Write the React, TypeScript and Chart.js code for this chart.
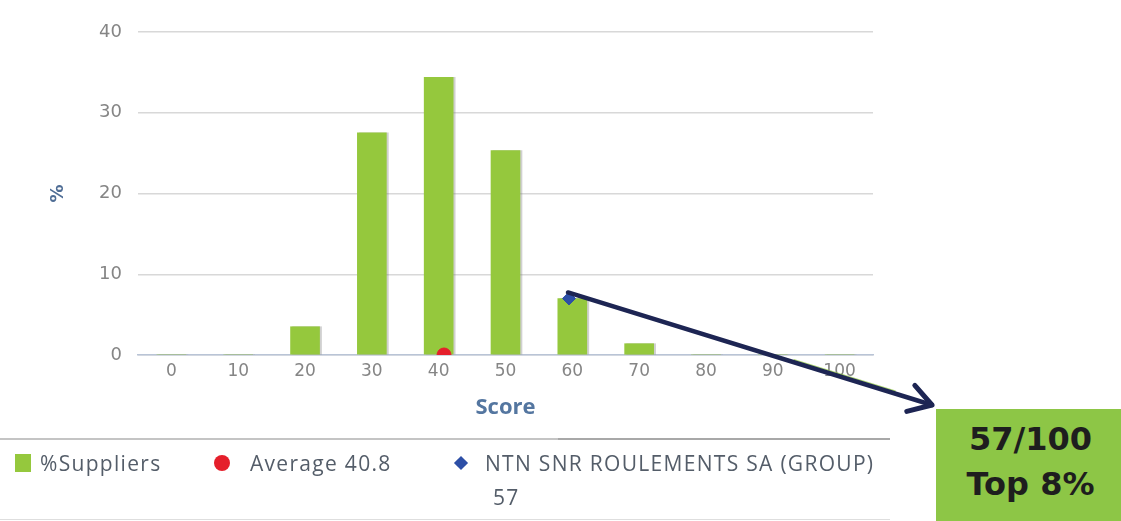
import React, { useEffect, useRef } from "react";
import { Chart, registerables } from "chart.js";

Chart.register(...registerables);

// ---- data ----
const scoreBins = [0, 10, 20, 30, 40, 50, 60, 70, 80, 90, 100];
const supplierPct = [0, 0, 3.5, 27.5, 34.4, 25.3, 7.0, 1.4, 0, 0, 0];
const yTickValues = [0, 10, 20, 30, 40];
const averageScore = 40.8;
const averageY = 0;
const companyMarkerX = 59.5;
const companyMarkerY = 7.0;
const legendLabels = ["%Suppliers", "Average 40.8", "NTN SNR ROULEMENTS SA (GROUP)", "57"];
const boxLines = ["57/100", "Top 8%"];

const W = 1121;
const H = 521;

const barShadow = {
  id: "barShadow",
  beforeDatasetDraw(chart: any, args: any) {
    if (args.index !== 0) return;
    const ctx = chart.ctx;
    ctx.save();
    ctx.shadowColor = "rgba(120,120,120,0.35)";
    ctx.shadowOffsetX = 2;
    ctx.shadowOffsetY = 0;
    ctx.shadowBlur = 0;
  },
  afterDatasetDraw(chart: any, args: any) {
    if (args.index !== 0) return;
    chart.ctx.restore();
  },
};

const arrowPlugin = {
  id: "arrowPlugin",
  afterDatasetsDraw(chart: any) {
    const meta = chart.getDatasetMeta(2);
    const pt = meta.data[0];
    if (!pt) return;
    const ctx = chart.ctx;
    const sx = pt.x - 1;
    const sy = pt.y - 6;
    const ex = 932;
    const ey = 405;
    const ang = Math.atan2(ey - sy, ex - sx);
    ctx.save();
    // faint green edge along the lower part of the arrow
    ctx.strokeStyle = "rgba(141,198,63,0.75)";
    ctx.lineWidth = 1.5;
    ctx.beginPath();
    ctx.moveTo(sx + (ex - sx) * 0.62, sy + (ey - sy) * 0.62 - 2.5);
    ctx.lineTo(sx + (ex - sx) * 0.9, sy + (ey - sy) * 0.9 - 2.5);
    ctx.stroke();
    ctx.strokeStyle = "#1d2553";
    ctx.lineWidth = 4.5;
    ctx.lineCap = "round";
    ctx.lineJoin = "round";
    ctx.beginPath();
    ctx.moveTo(sx, sy);
    ctx.lineTo(ex, ey);
    ctx.stroke();
    const L = 26;
    ctx.lineWidth = 5;
    ctx.beginPath();
    ctx.moveTo(ex - L * Math.cos(ang - 0.55), ey - L * Math.sin(ang - 0.55));
    ctx.lineTo(ex, ey);
    ctx.lineTo(ex - L * Math.cos(ang + 0.55), ey - L * Math.sin(ang + 0.55));
    ctx.stroke();
    ctx.restore();
  },
};

export default function App() {
  const canvasRef = useRef<HTMLCanvasElement | null>(null);

  useEffect(() => {
    const canvas = canvasRef.current;
    if (!canvas) return;
    const chart = new Chart(canvas, {
      type: "bar",
      data: {
        datasets: [
          {
            type: "bar",
            label: legendLabels[0],
            data: scoreBins.map((x, i) => ({ x, y: supplierPct[i] })),
            backgroundColor: "#95c83d",
            barThickness: 29,
            order: 3,
          } as any,
          {
            type: "scatter",
            label: legendLabels[1],
            data: [{ x: averageScore, y: averageY }],
            backgroundColor: "#e51f2b",
            borderColor: "#e51f2b",
            pointRadius: 7,
            pointStyle: "circle",
            order: 1,
          } as any,
          {
            type: "scatter",
            label: legendLabels[2],
            data: [{ x: companyMarkerX, y: companyMarkerY }],
            backgroundColor: "#2d4fa6",
            borderColor: "#2d4fa6",
            pointRadius: 6.5,
            pointStyle: "rectRot",
            order: 0,
          } as any,
        ],
      },
      options: {
        animation: false,
        responsive: false,
        maintainAspectRatio: false,
        layout: { padding: { left: 0, top: 32, right: 248, bottom: 100 } },
        plugins: {
          legend: { display: false },
          tooltip: { enabled: false },
        },
        scales: {
          x: {
            type: "linear",
            min: -5,
            max: 105,
            offset: false,
            afterBuildTicks: (scale: any) => {
              scale.ticks = scoreBins.map((v) => ({ value: v }));
            },
            afterFit: (scale: any) => {
              scale.height = 66;
            },
            grid: { display: false, drawTicks: false },
            border: { display: true, color: "#b9c4d6", width: 1.5 },
            ticks: {
              padding: 6,
              color: "#858585",
              font: { family: "DejaVu Sans", size: 17 },
              maxRotation: 0,
              autoSkip: false,
            },
            title: {
              display: true,
              text: "Score",
              color: "#5476a0",
              font: { family: "Open Sans", size: 22, weight: "bold" },
              padding: { top: 0, bottom: 0 },
            },
          },
          y: {
            min: 0,
            max: 40,
            afterBuildTicks: (scale: any) => {
              scale.ticks = yTickValues.map((v) => ({ value: v }));
            },
            afterFit: (scale: any) => {
              scale.width = 138;
            },
            grid: { color: "#d8d8d8", lineWidth: 1.5, drawTicks: false },
            border: { display: false },
            ticks: {
              padding: 16,
              color: "#858585",
              font: { family: "DejaVu Sans", size: 18 },
            },
            title: {
              display: true,
              text: "%",
              color: "#4f6d95",
              font: { family: "DejaVu Sans", size: 18, weight: "bold" },
              padding: { top: 48, bottom: 0 },
            },
          },
        },
      } as any,
      plugins: [barShadow, arrowPlugin],
    });
    return () => chart.destroy();
  }, []);

  const legendText: React.CSSProperties = {
    position: "absolute",
    fontFamily: "'Open Sans', sans-serif",
    fontSize: 21,
    letterSpacing: "1.3px",
    color: "#545d69",
    lineHeight: "24px",
    whiteSpace: "nowrap",
  };

  return (
    <div
      style={{
        position: "absolute",
        left: 0,
        top: 0,
        width: W,
        height: H,
        overflow: "hidden",
        background: "#ffffff",
      }}
    >
      <canvas ref={canvasRef} width={W} height={H} style={{ position: "absolute", left: 0, top: 0, width: W, height: H }} />
      {/* legend separator lines */}
      <div style={{ position: "absolute", left: 0, top: 438, width: 558, height: 2, background: "#c4c4c4" }} />
      <div style={{ position: "absolute", left: 558, top: 438, width: 332, height: 2, background: "#a8a8a8" }} />
      <div style={{ position: "absolute", left: 0, top: 519, width: 890, height: 1, background: "#dedede" }} />
      {/* legend items */}
      <div style={{ position: "absolute", left: 15, top: 454, width: 16, height: 18, background: "#95c83d" }} />
      <div style={{ ...legendText, left: 40, top: 451 }}>{legendLabels[0]}</div>
      <div style={{ position: "absolute", left: 214, top: 455, width: 16, height: 16, borderRadius: 8, background: "#e51f2b" }} />
      <div style={{ ...legendText, left: 250, top: 451 }}>{legendLabels[1]}</div>
      <div
        style={{
          position: "absolute",
          left: 456,
          top: 458,
          width: 10,
          height: 10,
          background: "#2d4fa6",
          transform: "rotate(45deg)",
        }}
      />
      <div style={{ ...legendText, left: 485, top: 451 }}>{legendLabels[2]}</div>
      <div style={{ ...legendText, left: 493, top: 485 }}>{legendLabels[3]}</div>
      {/* score box */}
      <div
        style={{
          position: "absolute",
          left: 936,
          top: 409,
          width: 185,
          height: 112,
          background: "#8dc646",
          display: "flex",
          flexDirection: "column",
          alignItems: "center",
          justifyContent: "center",
          fontFamily: "'DejaVu Sans', sans-serif",
          fontWeight: "bold",
          fontSize: 32,
          lineHeight: "45px",
          color: "#1e1e1e",
          paddingLeft: 4,
          paddingBottom: 6,
          boxSizing: "border-box",
        }}
      >
        <div>{boxLines[0]}</div>
        <div>{boxLines[1]}</div>
      </div>
    </div>
  );
}
